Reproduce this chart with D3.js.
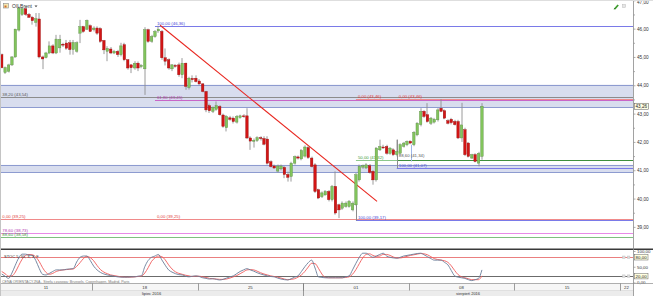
<!DOCTYPE html>
<html><head><meta charset="utf-8">
<script src="https://cdn.jsdelivr.net/npm/d3@7/dist/d3.min.js"></script>
<style>
html,body{margin:0;padding:0;background:#fff;overflow:hidden}
svg{display:block;font-family:"Liberation Sans",Arial,sans-serif}
</style></head><body>
<svg id="c" width="653" height="296"></svg>
<script>
// ---------- DATA ----------
const instrument = "OILBrent";
const openP = [45.08,44.45,44.49,44.72,45.00,45.95,46.50,46.70,46.50,46.40,
 46.22,46.34,45.00,44.98,45.14,45.39,45.14,45.32,45.45,45.49,
 45.50,45.26,45.20,45.84,46.07,45.98,46.10,45.96,46.02,46.00,
 45.58,45.20,45.28,45.14,45.20,45.08,45.43,44.90,44.72,44.61,
 44.78,44.66,44.58,45.96,45.55,45.72,45.92,45.90,44.97,44.90,
 44.58,44.70,44.72,44.37,44.78,43.92,44.24,44.25,44.15,44.05,
 43.78,43.28,43.08,43.15,43.25,42.95,42.50,42.85,42.84,42.70,
 42.86,42.92,42.92,42.14,42.02,42.05,42.15,42.12,42.10,41.30,
 41.15,40.97,41.05,41.10,40.85,40.78,41.25,41.47,41.40,41.50,
 41.80,41.43,41.19,40.31,40.07,40.13,40.25,39.96,40.43,39.78,
 39.66,39.72,39.72,39.60,39.78,40.66,41.11,41.08,41.16,40.96,
 40.66,41.72,41.82,41.84,41.60,41.72,41.55,41.60,41.84,41.90,
 42.02,41.90,42.25,42.61,43.08,42.96,42.66,42.70,42.78,43.19,
 43.10,42.75,42.80,42.72,42.72,42.14,42.43,41.96,41.43,41.55,
 41.25,41.49];
const highP = [45.12,44.66,44.76,45.03,46.00,46.78,46.75,46.76,46.55,46.45,
 46.55,46.55,45.05,45.18,45.55,45.45,45.78,45.78,45.50,45.60,
 45.60,45.60,45.55,46.31,46.10,46.32,46.15,46.08,46.08,46.05,
 45.60,45.38,45.35,45.25,45.25,45.50,45.50,44.92,44.75,44.85,
 44.84,44.75,46.05,46.00,45.78,45.95,46.10,45.95,45.30,44.95,
 44.75,44.75,44.80,44.96,44.80,44.30,44.35,44.35,44.22,44.08,
 43.80,43.35,43.25,43.43,43.30,43.00,42.95,42.92,42.90,42.95,
 42.96,42.98,43.19,42.20,42.12,42.20,42.20,42.20,42.20,41.35,
 41.20,41.20,41.20,41.15,40.95,41.30,41.52,41.52,41.75,41.88,
 41.85,41.48,41.25,40.35,40.25,40.30,40.30,40.48,40.96,39.82,
 39.90,39.90,39.95,39.90,40.90,41.20,41.20,41.25,41.22,41.00,
 41.82,42.08,41.90,41.90,41.82,41.78,42.08,41.95,42.00,42.05,
 42.06,42.38,42.70,43.19,43.12,43.37,42.88,42.85,43.19,43.51,
 43.15,42.80,42.85,42.78,42.78,43.38,42.50,42.00,41.58,41.60,
 41.65,43.37];
const lowP = [44.60,44.40,44.45,44.68,44.97,45.90,46.45,46.45,46.38,46.14,
 46.07,44.95,44.57,44.95,45.10,45.10,45.10,45.15,45.35,45.25,
 45.08,45.08,45.15,45.49,45.85,45.95,45.88,45.90,45.78,45.50,
 45.10,44.85,45.10,45.10,45.00,45.02,44.85,44.55,44.43,44.55,
 44.50,44.60,43.66,45.50,45.50,45.68,45.85,44.90,44.70,44.55,
 44.50,44.62,44.30,44.25,43.84,43.85,44.10,44.10,44.00,43.75,
 43.05,43.02,43.02,43.10,42.93,42.50,42.37,42.75,42.65,42.65,
 42.82,42.85,42.10,41.72,41.80,42.00,42.05,41.88,41.20,41.10,
 41.05,40.92,41.00,40.72,40.60,40.60,41.20,41.38,41.35,41.45,
 41.40,41.10,40.20,39.98,40.02,40.10,39.90,39.90,39.43,39.31,
 39.60,39.68,39.68,39.55,39.75,40.60,41.05,41.05,40.88,40.49,
 40.60,41.68,41.75,41.55,41.55,41.50,41.49,41.55,41.80,41.85,
 41.92,41.85,42.20,42.55,42.85,42.68,42.60,42.65,42.72,43.05,
 42.80,42.62,42.62,42.58,42.10,42.00,41.50,41.45,41.40,41.28,
 41.14,41.37];
const closeP = [44.62,44.62,44.72,45.00,45.98,46.72,46.70,46.50,46.40,46.28,
 46.35,45.00,44.93,45.14,45.39,45.14,45.63,45.62,45.42,45.31,
 45.26,45.51,45.50,46.07,45.90,46.29,45.90,46.02,45.84,45.55,
 45.25,45.30,45.14,45.20,45.08,45.39,44.90,44.61,44.62,44.78,
 44.61,44.70,45.96,45.55,45.72,45.90,45.98,44.97,44.85,44.61,
 44.72,44.68,44.37,44.78,43.96,44.25,44.20,44.13,44.05,43.78,
 43.13,43.10,43.22,43.28,42.96,42.55,42.90,42.80,42.72,42.90,
 42.92,42.90,42.14,42.03,42.06,42.15,42.12,41.92,41.25,41.13,
 41.08,41.15,41.15,40.85,40.75,41.25,41.48,41.43,41.70,41.82,
 41.45,41.13,40.25,40.02,40.20,40.25,39.96,40.43,39.49,39.60,
 39.84,39.84,39.90,39.84,40.84,41.14,41.16,41.19,40.92,40.66,
 41.78,41.84,41.80,41.60,41.78,41.55,41.66,41.90,41.96,42.02,
 41.96,42.34,42.66,43.08,42.90,42.72,42.84,42.80,43.13,43.08,
 42.84,42.66,42.68,42.61,42.14,42.60,41.55,41.49,41.55,41.31,
 41.60,43.26];
const stochK = [27,20,13,30,55,78,90,90,87,86,
 70,45,26,24,29,35,40,40,40,42,
 43,44,65,80,84,84,70,52,40,32,
 27,24,22,20,18,17,17,17,18,18,
 20,21,50,70,80,84,89,72,55,40,
 33,28,25,24,20,18,20,21,19,15,
 13,11,12,10,8,10,14,18,21,28,
 35,40,44,40,36,31,27,24,21,19,
 18,14,11,9,8,12,17,21,35,50,
 63,71,46,18,16,15,15,15,15,15,
 15,18,21,40,61,80,93,93,86,80,
 84,89,93,84,80,78,77,80,84,86,
 88,90,92,93,88,82,76,71,71,71,
 64,56,38,21,17,15,13,9,6,9,
 13,40];
const stochD = [35,28,20,21,33,54,74,86,89,88,
 81,67,47,32,26,29,35,38,40,41,
 42,43,51,63,76,83,79,69,54,41,
 33,28,24,22,20,18,17,17,17,18,
 19,20,30,47,67,78,84,82,72,56,
 43,34,29,26,23,21,19,20,20,18,
 16,13,12,11,10,10,11,14,18,22,
 28,34,40,41,40,36,31,27,24,21,
 19,17,14,11,9,10,12,17,24,35,
 49,61,60,45,27,16,15,15,15,15,
 15,16,18,26,41,60,78,89,91,86,
 83,84,89,89,86,81,78,78,80,83,
 86,88,90,92,91,88,82,76,73,71,
 69,64,53,38,25,18,15,12,9,9,
 9,21];
const priceTicks = [39,40,41,42,43,44,45,46,47];
const priceMinorTicks = [39.5,40.5,41.5,42.5,43.5,44.5,45.5,46.5];
const stochTicks = [0,50,100];
const stochBoxTicks = [20,80];
const weekLabels = ["11","18","25","01","08","15","22"];
const weekStarts = [-4.5,26.5,57.5,88.5,119.5,150.5,181.5];   // candle index where each week begins
const monthLabels = ["lipiec 2016","sierpień 2016"];
const monthStarts = [-60,88.5];
const monthEnds = [88.5,300];
const bandTop = [44.02,41.19];
const bandBottom = [43.23,40.93];
const levelValues = [46.10,43.59,43.47,43.52,41.37,41.37,41.08,39.28,39.23,38.78,38.64];
const levelStarts = [45,-0.5,45,104,104,116,116,-0.5,104,-0.5,-0.5];
const levelEnds   = [186,186,186,186,116,186,186,186,186,186,186];
const levelKinds  = ["blue","gray","magenta","red","lgreen","green","blue","red","blue","pink","green2"];
const fibLabels = ["100,00 (46,36)","38,20 (43,54)","61,80 (43,45)","0,00 (43,46)","0,00 (43,46)","50,00 (41,32)","88,60 (41,34)","100,00 (41,07)","0,00 (39,25)","0,00 (39,25)","100,00 (39,17)","78,60 (38,73)","88,60 (38,58)"];
const fibLabelIdx = [45.3,-0.1,45.3,104.3,116.3,104.3,116.3,116.3,-0.1,45.3,104.3,-0.1,-0.1];
const fibLabelVal = [46.10,43.59,43.47,43.52,43.52,41.37,41.42,41.08,39.28,39.28,39.23,38.78,38.64];
const fibLabelKind = ["blue","gray","magenta","red","red","green","gray","blue","red","red","blue","magenta","green"];
const fibVertIdx = [104,116.1,120.1];
const fibVertTop = [40.00,42.08,41.90];
const fibVertBot = [39.22,41.08,41.31];
const fibVertKind = ["gray","gray","lblue"];
const trendIdx = [46.5,110.2];
const trendVal = [46.12,39.90];
const lastPrice = 43.26;
const stochTitle = "STOC 5, 30, 3, 3, F";
const footnote = "CENA ORIENTACYJNA - Strefa czasowa: Brussels, Copenhagen, Madrid, Paris";

// ---------- STYLE ----------
const lineCol = {blue:"#7a7ae8",gray:"#8c8c8c",magenta:"#c866c8",red:"#f08a8a",lgreen:"#8cc88c",green:"#3d8f3d",pink:"#e88ae8",green2:"#7fbf7f",lblue:"#9fb8e8"};
const textCol = {blue:"#4646d6",gray:"#555",magenta:"#b23ab2",red:"#e03a3a",green:"#3a9a3a"};

// ---------- DRAW ----------
const svg = d3.select("#c");
const PR = 633, MB = 248.5;
const x = d3.scaleLinear().domain([-0.5,185.35]).range([0,PR]);
const y = d3.scaleLinear().domain([39,47]).range([226.9,0.3]);
const ys = d3.scaleLinear().domain([0,100]).range([282.5,251]);
const fmt = d => d3.format(".2f")(d).replace(".",",");
const crisp = v => Math.round(v)+0.5;
const idx = d3.range(openP.length);

svg.append("rect").attr("width",653).attr("height",296).attr("fill","#fff");
const defs = svg.append("defs");
defs.append("clipPath").attr("id","cm").append("rect").attr("x",0).attr("y",0).attr("width",PR).attr("height",MB);
defs.append("clipPath").attr("id","cs").append("rect").attr("x",0).attr("y",250).attr("width",PR).attr("height",33);

const gm = svg.append("g").attr("clip-path","url(#cm)");
// bands
gm.selectAll("rect.band").data(d3.range(bandTop.length)).join("rect").attr("class","band")
  .attr("x",0).attr("width",PR).attr("y",i=>y(bandTop[i])).attr("height",i=>y(bandBottom[i])-y(bandTop[i]))
  .attr("fill","#d8ddee");
gm.selectAll("line.bedge").data(bandTop.concat(bandBottom)).join("line").attr("class","bedge")
  .attr("x1",0).attr("x2",PR).attr("y1",d=>crisp(y(d))).attr("y2",d=>crisp(y(d)))
  .attr("stroke","#8d9bd0").attr("stroke-width",1);
// level lines
gm.selectAll("line.lvl").data(d3.range(levelValues.length)).join("line").attr("class","lvl")
  .attr("x1",i=>x(levelStarts[i])).attr("x2",i=>Math.min(PR,x(levelEnds[i])))
  .attr("y1",i=>crisp(y(levelValues[i]))).attr("y2",i=>crisp(y(levelValues[i])))
  .attr("stroke",i=>lineCol[levelKinds[i]]).attr("stroke-width",1);
// fib anchor verticals
gm.selectAll("line.fv").data(d3.range(fibVertIdx.length)).join("line").attr("class","fv")
  .attr("x1",i=>crisp(x(fibVertIdx[i]))).attr("x2",i=>crisp(x(fibVertIdx[i])))
  .attr("y1",i=>y(fibVertTop[i])).attr("y2",i=>y(fibVertBot[i]))
  .attr("stroke",i=>lineCol[fibVertKind[i]]).attr("stroke-width",1);
// fib labels
gm.selectAll("text.fl").data(d3.range(fibLabels.length)).join("text").attr("class","fl")
  .attr("x",i=>x(fibLabelIdx[i])+1).attr("y",i=>y(fibLabelVal[i])-1)
  .attr("font-size",4.3).attr("fill",i=>textCol[fibLabelKind[i]]).text(i=>fibLabels[i]);
// trend line
gm.append("line").attr("x1",x(trendIdx[0])).attr("y1",y(trendVal[0])).attr("x2",x(trendIdx[1])).attr("y2",y(trendVal[1]))
  .attr("stroke","#e8261f").attr("stroke-width",1.1);
// candles
const cg = gm.append("g");
cg.selectAll("line.wick").data(idx).join("line").attr("class","wick")
  .attr("x1",i=>crisp(x(i))-0.5).attr("x2",i=>crisp(x(i))-0.5)
  .attr("y1",i=>y(highP[i])).attr("y2",i=>y(lowP[i]))
  .attr("stroke","#8e8e8e").attr("stroke-width",0.9);
cg.selectAll("rect.body").data(idx).join("rect").attr("class","body")
  .attr("x",i=>x(i)-1.25).attr("width",2.5)
  .attr("y",i=>y(Math.max(openP[i],closeP[i])))
  .attr("height",i=>Math.max(0.9,Math.abs(y(openP[i])-y(closeP[i]))))
  .attr("fill",i=>closeP[i]>=openP[i]?"#82c45c":"#d21515")
  .attr("stroke",i=>closeP[i]>=openP[i]?"#5e8f48":"#9a0d0d").attr("stroke-width",0.4);

// title
svg.append("rect").attr("x",3.5).attr("y",3.5).attr("width",5).attr("height",4.5).attr("fill","#f4e7b0").attr("stroke","#8a8a8a").attr("stroke-width",0.6);
svg.append("rect").attr("x",4.5).attr("y",5.5).attr("width",2).attr("height",2).attr("fill","#d06a2a");
svg.append("text").attr("x",12).attr("y",8.3).attr("font-size",5).attr("fill","#333").text(instrument);
svg.append("path").attr("d","M34.5,5.5 L37.5,5.5 L36,7.3 Z").attr("fill","#444");
// top-right icons
svg.append("path").attr("d","M614,8.5 L617.5,4.5 L618.8,5.6 L615.3,9.4 Z").attr("fill","#3c9c2c");
svg.append("path").attr("d","M613.6,9.4 L614.3,8 L615.4,9 Z").attr("fill","#2a6a1e");
svg.append("rect").attr("x",622.5).attr("y",4.5).attr("width",3).attr("height",3).attr("fill","#e6e6e6").attr("stroke","#bbb").attr("stroke-width",0.5);

// right price axis
const ga = svg.append("g").attr("transform",`translate(${PR+0.5},0)`);
ga.call(d3.axisRight(y).tickValues(priceTicks).tickSize(2).tickPadding(1.5).tickFormat(fmt));
const gmin = svg.append("g").attr("transform",`translate(${PR+0.5},0)`);
gmin.call(d3.axisRight(y).tickValues(priceMinorTicks).tickSize(1.5).tickFormat(""));
[ga,gmin].forEach(g=>{g.select(".domain").remove();g.selectAll("line").attr("stroke","#777").attr("stroke-width",0.6);
  g.selectAll("text").attr("font-size",4.7).attr("fill","#333").attr("font-family","Liberation Sans, Arial, sans-serif");});
// keep the top label inside the picture
ga.selectAll("text").filter(d=>d===47).attr("dy","0.75em");
// last price box
svg.append("rect").attr("x",PR+1.5).attr("y",y(lastPrice)-3).attr("width",14).attr("height",6).attr("fill","#ffffe4").attr("stroke","#555").attr("stroke-width",0.5);
svg.append("text").attr("x",PR+2.5).attr("y",y(lastPrice)+1.7).attr("font-size",4.6).attr("fill","#222").text(fmt(lastPrice));

// separator between panels
svg.append("line").attr("x1",0).attr("x2",653).attr("y1",249.2).attr("y2",249.2).attr("stroke","#3a3a3a").attr("stroke-width",1.5);

// stochastic panel
const gs = svg.append("g").attr("clip-path","url(#cs)");
gs.append("line").attr("x1",0).attr("x2",PR).attr("y1",crisp(ys(80))).attr("y2",crisp(ys(80))).attr("stroke","#e87070").attr("stroke-width",0.9);
gs.append("line").attr("x1",0).attr("x2",PR).attr("y1",crisp(ys(20))).attr("y2",crisp(ys(20))).attr("stroke","#5a5a5a").attr("stroke-width",0.9);
const lineK = d3.line().x(i=>x(i)).y(i=>ys(stochK[i])).curve(d3.curveMonotoneX);
const lineD = d3.line().x(i=>x(i)).y(i=>ys(stochD[i])).curve(d3.curveMonotoneX);
gs.append("path").attr("d",lineD(idx)).attr("fill","none").attr("stroke","#f05a5a").attr("stroke-width",0.9);
gs.append("path").attr("d",lineK(idx)).attr("fill","none").attr("stroke","#6a7d99").attr("stroke-width",0.9);
svg.append("text").attr("x",4).attr("y",258.3).attr("font-size",4).attr("fill","#333").text(stochTitle);
// stoch axis
const gsa = svg.append("g").attr("transform",`translate(${PR+0.5},0)`);
gsa.call(d3.axisRight(ys).tickValues(stochTicks).tickSize(2).tickPadding(1.5).tickFormat(fmt));
gsa.select(".domain").remove();
gsa.selectAll("line").attr("stroke","#777").attr("stroke-width",0.6);
gsa.selectAll("text").attr("font-size",4.4).attr("fill","#333").attr("font-family","Liberation Sans, Arial, sans-serif");
stochBoxTicks.forEach(v=>{
  svg.append("rect").attr("x",PR+1.5).attr("y",ys(v)-2.7).attr("width",13.5).attr("height",5.4).attr("fill","#ffffe0").attr("stroke","#666").attr("stroke-width",0.5);
  svg.append("text").attr("x",PR+2.6).attr("y",ys(v)+1.6).attr("font-size",4.4).attr("fill","#222").text(fmt(v));
  svg.append("rect").attr("x",622.5).attr("y",ys(v)-1.3).attr("width",2.6).attr("height",2.6).attr("fill","#ddd").attr("stroke","#bbb").attr("stroke-width",0.4);
  svg.append("rect").attr("x",627.3).attr("y",ys(v)-1.3).attr("width",2.6).attr("height",2.6).attr("fill","#ddd").attr("stroke","#bbb").attr("stroke-width",0.4);
});
svg.append("text").attr("x",2).attr("y",282.8).attr("font-size",3.6).attr("fill","#777").text(footnote);

// x axis area
svg.append("rect").attr("x",0).attr("y",283.5).attr("width",PR).attr("height",7).attr("fill","#f6f6f6");
svg.append("rect").attr("x",0).attr("y",290.5).attr("width",PR).attr("height",6).attr("fill","#ececec");
svg.append("line").attr("x1",0).attr("x2",653).attr("y1",283.5).attr("y2",283.5).attr("stroke","#9a9a9a").attr("stroke-width",0.8);
svg.append("line").attr("x1",0).attr("x2",PR).attr("y1",290.5).attr("y2",290.5).attr("stroke","#d4d4d4").attr("stroke-width",0.6);
const gx = svg.append("g");
gx.selectAll("line.wk").data(weekStarts.filter(d=>x(d)>0 && x(d)<PR)).join("line").attr("class","wk")
  .attr("x1",d=>crisp(x(d))).attr("x2",d=>crisp(x(d))).attr("y1",283.5).attr("y2",290.5)
  .attr("stroke","#777").attr("stroke-width",0.7);
gx.selectAll("text.wk").data(d3.range(weekLabels.length)).join("text").attr("class","wk")
  .attr("x",i=>{const a=Math.max(0,x(weekStarts[i])),b=Math.min(PR,x(weekStarts[i]+31));return (a+b)/2;})
  .attr("y",289).attr("text-anchor","middle").attr("font-size",4.3).attr("fill","#333").text(i=>weekLabels[i]);
gx.selectAll("line.mo").data(monthStarts.filter(d=>x(d)>0 && x(d)<PR)).join("line").attr("class","mo")
  .attr("x1",d=>crisp(x(d))).attr("x2",d=>crisp(x(d))).attr("y1",283.5).attr("y2",296)
  .attr("stroke","#777").attr("stroke-width",0.7);
gx.selectAll("text.mo").data(d3.range(monthLabels.length)).join("text").attr("class","mo")
  .attr("x",i=>(Math.max(0,x(monthStarts[i]))+Math.min(PR,x(monthEnds[i])))/2)
  .attr("y",294.6).attr("text-anchor","middle").attr("font-size",4).attr("fill","#333").text(i=>monthLabels[i]);

// frame lines
svg.append("line").attr("x1",PR+0.5).attr("x2",PR+0.5).attr("y1",0).attr("y2",296).attr("stroke","#8a8a8a").attr("stroke-width",0.8);
svg.append("line").attr("x1",0.5).attr("x2",0.5).attr("y1",0).attr("y2",296).attr("stroke","#c4c4c4").attr("stroke-width",1);
svg.append("line").attr("x1",0).attr("x2",653).attr("y1",0.5).attr("y2",0.5).attr("stroke","#dedede").attr("stroke-width",1);
</script>
</body></html>
